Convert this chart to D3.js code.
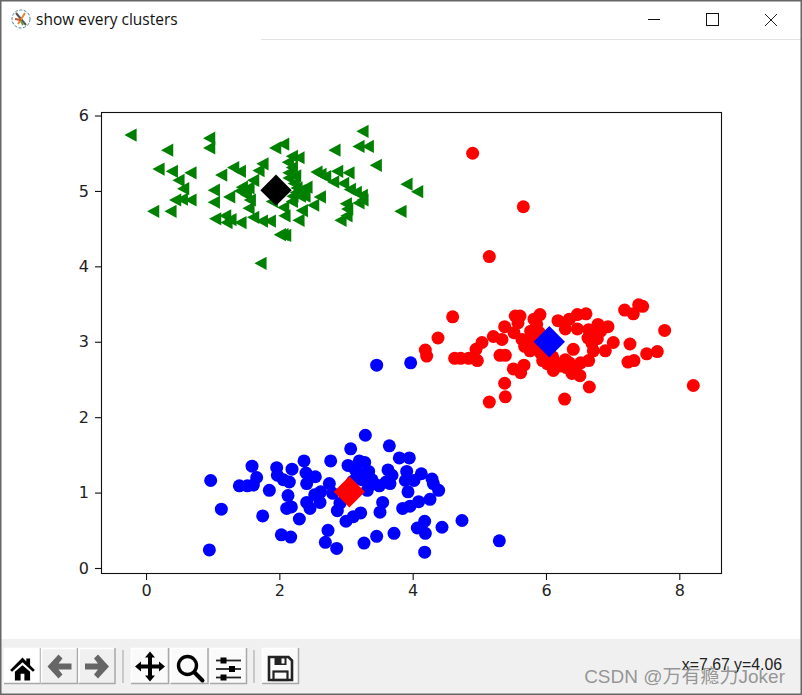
<!DOCTYPE html>
<html><head><meta charset="utf-8">
<style>html,body{margin:0;padding:0;background:#fff;overflow:hidden}svg{display:block}</style>
<script src="https://cdn.jsdelivr.net/npm/d3@7/dist/d3.min.js"></script></head>
<body><svg id="c" width="802" height="695"></svg>
<script>
const windowTitle = "show every clusters";
const statusText = "x=7.67 y=4.06";
const watermark = "CSDN @万有瘾力Joker";
const xTicks = [0,2,4,6,8];
const yTicks = [0,1,2,3,4,5,6];
const greenPoints = [[-0.23,5.74],[0.95,5.70],[0.32,5.54],[0.95,5.57],[1.94,5.57],[2.06,5.62],[3.25,5.79],[2.83,5.54],[3.19,5.59],[3.33,5.59],[2.19,5.46],[2.29,5.44],[2.13,5.38],[3.45,5.34],[0.19,5.29],[0.39,5.26],[0.67,5.24],[1.13,5.21],[1.31,5.31],[1.41,5.26],[1.75,5.36],[1.69,5.27],[2.19,5.31],[2.14,5.24],[2.56,5.25],[2.62,5.22],[2.69,5.19],[2.87,5.26],[3.04,5.24],[0.49,5.14],[0.56,5.03],[1.02,5.01],[1.61,5.14],[1.44,5.05],[1.54,5.04],[2.81,5.12],[2.96,5.10],[3.06,5.02],[3.91,5.09],[4.07,4.99],[0.44,4.88],[0.67,4.88],[0.54,4.89],[1.02,4.85],[1.25,4.92],[1.41,5.00],[1.56,4.88],[1.54,4.77],[2.26,5.04],[2.41,5.05],[2.31,4.93],[2.19,4.86],[1.89,4.86],[2.61,4.92],[3.24,4.94],[3.19,4.84],[3.00,4.83],[3.15,4.98],[0.11,4.73],[0.37,4.73],[3.82,4.73],[2.06,4.78],[2.34,4.74],[2.51,4.81],[2.08,4.67],[1.04,4.63],[1.19,4.67],[1.21,4.58],[1.42,4.58],[1.61,4.65],[1.74,4.60],[1.86,4.60],[2.29,4.61],[3.01,4.67],[2.92,4.61],[2.01,4.42],[2.09,4.41],[1.72,4.04],[2.25,4.98],[2.14,5.17],[2.36,4.98],[3.02,4.76],[2.22,5.1],[2.3,5.0],[2.2,4.93],[2.38,4.93],[2.24,5.2],[1.5,4.95],[3.25,4.88],[2.05,4.42],[1.27,4.62]];
const redPoints = [[4.60,3.33],[4.38,3.05],[4.19,2.89],[4.21,2.81],[4.63,2.78],[4.72,2.78],[4.84,2.78],[4.97,2.75],[4.95,2.90],[5.04,2.99],[5.21,3.07],[5.34,3.03],[5.38,3.20],[5.52,3.12],[5.54,3.34],[5.61,3.34],[5.58,3.25],[5.31,2.82],[5.39,2.82],[5.51,2.64],[5.67,2.69],[5.62,2.59],[5.38,2.45],[5.39,2.27],[5.15,2.20],[6.28,2.24],[6.65,2.40],[6.51,2.55],[6.39,2.58],[6.11,2.62],[6.02,2.71],[6.22,2.68],[6.29,2.76],[6.52,2.72],[6.64,2.75],[6.41,2.90],[6.71,2.88],[6.89,2.88],[7.01,2.99],[7.26,2.97],[7.23,2.73],[7.32,2.75],[7.51,2.84],[7.67,2.87],[7.78,3.15],[8.21,2.42],[7.18,3.42],[7.31,3.37],[7.39,3.49],[7.45,3.47],[6.93,3.20],[6.78,3.23],[6.64,3.16],[6.82,3.14],[6.63,3.05],[6.77,3.04],[6.69,2.98],[6.47,3.17],[6.29,3.17],[6.18,3.28],[6.35,3.30],[6.47,3.36],[6.60,3.37],[5.91,3.36],[5.82,3.30],[5.86,3.23],[5.77,3.14],[5.64,3.03],[5.72,3.00],[5.68,2.94],[5.76,2.88],[5.92,2.85],[5.84,3.09],[5.95,2.75],[6.1,2.8],[6.35,2.72],[5.85,2.95],[5.8,3.05],[5.9,3.12],[5.98,2.82],[6.15,2.72],[6.42,2.63],[6.45,2.66],[6.3,2.66],[6.7,3.1],[4.90,5.50],[5.66,4.79],[5.15,4.13]];
const bluePoints = [[3.29,1.76],[3.07,1.58],[3.65,1.62],[3.80,1.46],[3.95,1.46],[2.37,1.42],[2.77,1.42],[1.59,1.35],[1.96,1.33],[2.19,1.31],[3.03,1.36],[3.20,1.42],[3.28,1.40],[3.14,1.30],[3.34,1.28],[3.63,1.30],[3.91,1.28],[4.13,1.25],[4.29,1.18],[4.31,1.12],[4.39,1.03],[4.26,0.91],[2.40,1.26],[2.54,1.21],[2.41,1.12],[1.97,1.23],[2.06,1.17],[2.15,1.14],[1.66,1.20],[1.61,1.10],[1.52,1.09],[1.40,1.09],[0.97,1.16],[1.85,1.03],[2.13,0.96],[2.75,1.12],[2.62,1.01],[2.53,0.97],[2.80,0.99],[2.41,0.87],[2.61,0.87],[2.46,0.79],[2.11,0.79],[2.18,0.81],[1.13,0.78],[1.75,0.69],[2.30,0.65],[2.91,0.86],[2.87,0.76],[3.32,1.03],[3.24,1.17],[3.39,1.17],[3.50,1.09],[3.66,1.12],[3.69,1.23],[3.89,1.16],[4.02,1.16],[3.93,1.01],[3.55,0.87],[3.51,0.74],[3.85,0.79],[3.96,0.82],[4.09,0.88],[3.22,0.73],[3.11,0.68],[3.00,0.62],[4.18,0.62],[4.74,0.63],[4.07,0.53],[4.44,0.54],[4.19,0.46],[4.18,0.21],[5.30,0.36],[3.72,0.46],[3.46,0.42],[3.27,0.33],[2.86,0.26],[2.69,0.34],[2.73,0.50],[2.03,0.44],[2.17,0.41],[0.95,0.24],[3.46,2.69],[3.97,2.72],[3.1,1.15],[3.2,1.25],[3.42,1.12],[3.6,1.14]];
const centroids = [[1.95,5.01,"#000"],[6.05,3.00,"#0000ff"],[3.05,1.01,"#ff0000"]];

const svg = d3.select("#c");
const font = "'DejaVu Sans',sans-serif";
// window chrome
svg.append("rect").attr("width",802).attr("height",695).attr("fill","#fff");
svg.append("rect").attr("y",639).attr("width",802).attr("height",56).attr("fill","#f0f0f0");
svg.append("line").attr("x1",261).attr("x2",802).attr("y1",39.5).attr("y2",39.5).attr("stroke","#e3e3e3");
svg.append("text").attr("x",36).attr("y",25).attr("font-family","'Open Sans',sans-serif").attr("font-size",15.5).attr("fill","#111").text(windowTitle);
const ic = svg.append("g").attr("transform","translate(21,19)");
ic.append("circle").attr("r",9).attr("fill","#fff").attr("stroke","#4a7f9a").attr("stroke-width",1).attr("stroke-dasharray","3 1.5");
ic.append("path").attr("d","M-5,-6L5,6").attr("stroke","#555").attr("stroke-width",2);
ic.append("path").attr("d","M-3,5L4,-6").attr("stroke","#e8843a").attr("stroke-width",2);
ic.append("path").attr("d","M-6,0L0,1").attr("stroke","#c8552a").attr("stroke-width",2);
ic.append("path").attr("d","M0,2L2,6").attr("stroke","#6a9a40").attr("stroke-width",2);
// window buttons
svg.append("line").attr("x1",648).attr("x2",660).attr("y1",19.5).attr("y2",19.5).attr("stroke","#111");
svg.append("rect").attr("x",706.5).attr("y",13.5).attr("width",12).attr("height",12).attr("fill","none").attr("stroke","#111");
svg.append("path").attr("d","M765,14L777,26M777,14L765,26").attr("stroke","#222").attr("fill","none");
// frame
svg.append("path").attr("d","M0.75,0V694.25H801.25V0M0,0.75H802").attr("fill","none").attr("stroke","#666").attr("stroke-width",1.5);

// plot
const L=101.5,R=721.5,T=112.5,B=573.5;
const x = d3.scaleLinear().domain([-0.668,8.633]).range([L,R]);
const y = d3.scaleLinear().domain([-0.073,6.04]).range([B,T]);
const plot = svg.append("g");
plot.selectAll("circle.b").data(bluePoints).join("circle").attr("class","b").attr("cx",d=>x(d[0])).attr("cy",d=>y(d[1])).attr("r",6.5).attr("fill","#0000ff");
plot.selectAll("circle.r").data(redPoints).join("circle").attr("class","r").attr("cx",d=>x(d[0])).attr("cy",d=>y(d[1])).attr("r",6.5).attr("fill","#ff0000");
plot.selectAll("path.g").data(greenPoints).join("path").attr("class","g").attr("d","M-6.3,0L5.9,-6.6V6.6Z").attr("transform",d=>`translate(${x(d[0])},${y(d[1])})`).attr("fill","#008000");
plot.selectAll("path.c").data(centroids).join("path").attr("class","c").attr("d",d3.symbol(d3.symbolSquare,490)).attr("transform",d=>`translate(${x(d[0])},${y(d[1])}) rotate(45)`).attr("fill",d=>d[2]);

const gx = svg.append("g").attr("transform",`translate(0,${B})`).call(d3.axisBottom(x).tickValues(xTicks).tickFormat(d3.format("d")).tickSize(6.5).tickPadding(5));
const gy = svg.append("g").attr("transform",`translate(${L},0)`).call(d3.axisLeft(y).tickValues(yTicks).tickFormat(d3.format("d")).tickSize(6.5).tickPadding(6));
[gx,gy].forEach(g=>{g.select(".domain").remove();g.selectAll("line").attr("stroke","#111").attr("stroke-width",1.1);g.selectAll("text").attr("font-family",font).attr("font-size",16).attr("fill","#222");});
svg.append("rect").attr("x",L).attr("y",T).attr("width",R-L).attr("height",B-T).attr("fill","none").attr("stroke","#111").attr("stroke-width",1.1);

// toolbar
const buttons = [[4,37],[41,37],[78.5,37],[131,38],[170.5,38],[210,37],[262,37]];
svg.selectAll("g.btn").data(buttons).join("g").attr("class","btn").attr("transform",d=>`translate(${d[0]},648)`).each(function(d,i){
  const g=d3.select(this),w=d[1],h=36;
  g.append("rect").attr("width",w).attr("height",h).attr("fill",i==0?"#fff":i==1||i==2?"#f0f0f0":"#fafafa");
  g.append("path").attr("d",`M0.5,${h}V0.5H${w}`).attr("fill","none").attr("stroke","#fff").attr("stroke-width",1.5);
  g.append("path").attr("d",`M0,${h-0.5}H${w-0.5}V0`).attr("fill","none").attr("stroke","#a8a8a8").attr("stroke-width",1.5);
  const c=g.append("g").attr("transform",`translate(${w/2},${h/2+0.5})`);
  if(i==0){c.append("path").attr("d","M-13,1L0,-12L4,-8V-11H8V-4L13,1L11,3L0,-7L-11,3ZM-8,3L0,-4L8,3V12H2V5H-2V12H-8Z").attr("transform","translate(0,2.5) scale(.95)").attr("fill","#000");}
  if(i==1||i==2){const s=i==1?1:-1;c.append("path").attr("d","M-12,0L-1,-12L3,-8L-1,-3H12V3H-1L3,8L-1,12Z").attr("transform",`scale(${s},1)`).attr("fill","#666");}
  if(i==3){c.append("path").attr("d","M0,-15L5,-9H2V-2H9V-5L15,0L9,5V2H2V9H5L0,15L-5,9H-2V2H-9V5L-15,0L-9,-5V-2H-2V-9H-5Z").attr("fill","#000");}
  if(i==4){c.append("circle").attr("cx",-2).attr("cy",-1).attr("r",9).attr("fill","none").attr("stroke","#000").attr("stroke-width",3.4);c.append("path").attr("d","M5,6L13,14").attr("stroke","#000").attr("stroke-width",4).attr("stroke-linecap","round");}
  if(i==5){[-5,3.5,-5].forEach((kx,k)=>{const yy=[-6,2.5,11][k];c.append("line").attr("x1",-12.5).attr("x2",12.5).attr("y1",yy).attr("y2",yy).attr("stroke","#222").attr("stroke-width",1.8);c.append("rect").attr("x",kx-3).attr("y",yy-3).attr("width",6).attr("height",6).attr("fill","#000");});}
  if(i==6){const s=c.append("g").attr("transform","translate(0,2)");s.append("path").attr("d","M-11.5,-11.5H8L11.5,-8V11.5H-11.5Z").attr("fill","none").attr("stroke","#222").attr("stroke-width",2.6);s.append("path").attr("d","M-6,-11.5H6V-3.5H-6Z").attr("fill","#222");s.append("rect").attr("x",1).attr("y",-10).attr("width",3).attr("height",5).attr("fill","#fafafa");s.append("rect").attr("x",-7).attr("y",3).attr("width",14).attr("height",8.5).attr("fill","none").attr("stroke","#222").attr("stroke-width",2.2);}
});
[123,254].forEach(sx=>svg.append("line").attr("x1",sx).attr("x2",sx).attr("y1",650).attr("y2",683).attr("stroke","#bdbdbd").attr("stroke-width",1.5));
svg.append("text").attr("x",782).attr("y",670).attr("text-anchor","end").attr("font-family","'Liberation Sans',sans-serif").attr("font-size",15.8).attr("fill","#222").text(statusText);
svg.append("text").attr("x",785).attr("y",683).attr("text-anchor","end").attr("font-family","'Liberation Sans','Noto Sans CJK SC',sans-serif").attr("font-size",19).attr("fill","#8a8a8a").attr("fill-opacity",0.9).text(watermark);
</script></body></html>
